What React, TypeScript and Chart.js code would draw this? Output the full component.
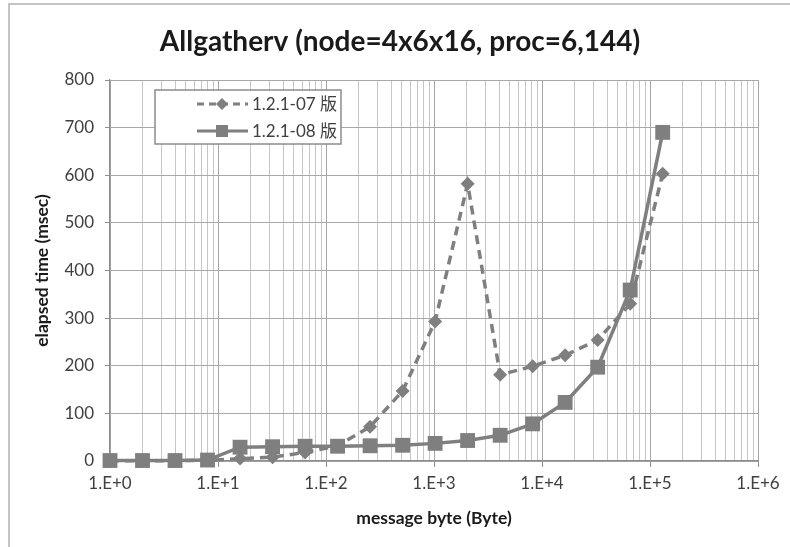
import React, { useEffect, useRef } from "react";
import { Chart, registerables } from "chart.js";

Chart.register(...registerables);

const chartTitle = "Allgatherv (node=4x6x16, proc=6,144)";
const xTitle = "message byte (Byte)";
const yTitle = "elapsed time (msec)";

const messageBytes = [1, 2, 4, 8, 16, 32, 64, 128, 256, 512, 1024, 2048, 4096, 8192, 16384, 32768, 65536, 131072];
const series07Label = "1.2.1-07 版";
const series07 = [0.5, 0.5, 0.7, 1.5, 5, 8, 18, 32, 72, 147, 293, 582, 181, 199, 222, 254, 330, 603];
const series08Label = "1.2.1-08 版";
const series08 = [1, 1, 1, 2, 29, 30, 31, 31, 32, 33, 37, 43, 54, 78, 123, 197, 359, 690];

const yTicks = [0, 100, 200, 300, 400, 500, 600, 700, 800];
const xDecades = [0, 1, 2, 3, 4, 5, 6];

const GRAY = "#7f7f7f";
const TEXT = "#404040";
const FONT = "Lato, 'Open Sans', 'Noto Sans CJK JP', sans-serif";

const textPlugin = {
  id: "titles",
  afterDraw(chart: any) {
    const { ctx, chartArea } = chart;
    ctx.save();
    ctx.fillStyle = "#1a1a1a";
    ctx.textAlign = "center";
    ctx.textBaseline = "middle";
    ctx.font = "bold 28px " + FONT;
    ctx.fillText(chartTitle, 400, 42);
    ctx.font = "bold 17.5px " + FONT;
    ctx.translate(42, (chartArea.top + chartArea.bottom) / 2);
    ctx.rotate(-Math.PI / 2);
    ctx.fillText(yTitle, 0, 0);
    ctx.restore();
  },
};

const legendPlugin = {
  id: "insideLegend",
  afterDraw(chart: any) {
    const { ctx, chartArea } = chart;
    const x0 = chartArea.left + 45;
    const y0 = chartArea.top + 10;
    const w = 186;
    const h = 54;
    ctx.save();
    ctx.fillStyle = "#ffffff";
    ctx.fillRect(x0, y0, w, h);
    ctx.strokeStyle = "#8c8c8c";
    ctx.lineWidth = 1.5;
    ctx.strokeRect(x0, y0, w, h);
    const items = [
      { label: series07Label, dash: [7, 5], style: "diamond", y: y0 + 14 },
      { label: series08Label, dash: [], style: "square", y: y0 + 41 },
    ];
    items.forEach((it) => {
      ctx.strokeStyle = GRAY;
      ctx.fillStyle = GRAY;
      ctx.lineWidth = 3;
      ctx.setLineDash(it.dash);
      ctx.beginPath();
      ctx.moveTo(x0 + 42, it.y);
      ctx.lineTo(x0 + 93, it.y);
      ctx.stroke();
      ctx.setLineDash([]);
      const cx = x0 + 67;
      ctx.beginPath();
      if (it.style === "diamond") {
        ctx.moveTo(cx, it.y - 6);
        ctx.lineTo(cx + 6, it.y);
        ctx.lineTo(cx, it.y + 6);
        ctx.lineTo(cx - 6, it.y);
        ctx.closePath();
      } else {
        ctx.rect(cx - 6, it.y - 6, 12, 12);
      }
      ctx.fill();
      ctx.fillStyle = TEXT;
      ctx.font = "17px " + FONT;
      ctx.textBaseline = "middle";
      ctx.textAlign = "left";
      ctx.fillText(it.label, x0 + 97, it.y + 1);
    });
    ctx.restore();
  },
};

export default function App() {
  const ref = useRef<HTMLCanvasElement | null>(null);

  useEffect(() => {
    if (!ref.current) return;
    const chart = new Chart(ref.current, {
      type: "line",
      data: {
        datasets: [
          {
            label: series07Label,
            data: messageBytes.map((x, i) => ({ x, y: series07[i] })),
            borderColor: GRAY,
            backgroundColor: GRAY,
            borderWidth: 3.5,
            borderDash: [9, 6],
            pointStyle: "rectRot",
            pointRadius: 7,
            pointBorderWidth: 0,
            pointBackgroundColor: GRAY,
            tension: 0,
            clip: false,
          },
          {
            label: series08Label,
            data: messageBytes.map((x, i) => ({ x, y: series08[i] })),
            borderColor: GRAY,
            backgroundColor: GRAY,
            borderWidth: 3.5,
            pointStyle: "rect",
            pointRadius: 10.5,
            pointBorderWidth: 0,
            pointBackgroundColor: GRAY,
            tension: 0,
            clip: false,
          },
        ],
      },
      options: {
        animation: false,
        responsive: false,
        layout: { padding: { left: 0, right: 32, top: 80, bottom: 0 } },
        plugins: {
          legend: { display: false },
          tooltip: { enabled: false },
          title: { display: false },
        },
        scales: {
          x: {
            type: "logarithmic",
            min: 1,
            max: 1000000,
            afterFit: (s: any) => {
              s.height = 86;
            },
            afterBuildTicks: (s: any) => {
              const t: any[] = [];
              xDecades.forEach((d) => {
                if (d === 6) {
                  t.push({ value: Math.pow(10, d) });
                } else {
                  for (let m = 1; m <= 9; m++) t.push({ value: m * Math.pow(10, d) });
                }
              });
              s.ticks = t;
            },
            ticks: {
              autoSkip: false,
              maxRotation: 0,
              padding: 6,
              color: TEXT,
              font: { family: FONT, size: 17 },
              callback: (v: any) => {
                const e = Math.log10(Number(v));
                if (Math.abs(e - Math.round(e)) < 1e-9) return "1.E+" + Math.round(e);
                return "";
              },
            },
            grid: {
              color: (c: any) => {
                const v = c.tick ? c.tick.value : 1;
                const e = Math.log10(v);
                return Math.abs(e - Math.round(e)) < 1e-9 ? "#a6a6a6" : "#c6c6c6";
              },
              tickColor: (c: any) => {
                const v = c.tick ? c.tick.value : 1;
                const e = Math.log10(v);
                return Math.abs(e - Math.round(e)) < 1e-9 ? "#8c8c8c" : "rgba(0,0,0,0)";
              },
              tickLength: 6,
              lineWidth: 1,
            },
            border: { color: "#8c8c8c", width: 1.2 },
            title: {
              display: true,
              text: xTitle,
              color: "#1a1a1a",
              font: { family: FONT, size: 17.5, weight: "bold", lineHeight: 1.2 },
              padding: { top: 0, bottom: 18.5 },
            },
          },
          y: {
            type: "linear",
            min: 0,
            max: 800,
            afterFit: (s: any) => {
              s.width = 110;
            },
            afterBuildTicks: (s: any) => {
              s.ticks = yTicks.map((v) => ({ value: v }));
            },
            ticks: {
              padding: 11,
              color: TEXT,
              font: { family: FONT, size: 17 },
            },
            grid: {
              color: "#a8a8a8",
              tickColor: "#8c8c8c",
              tickLength: 5,
              lineWidth: 1,
            },
            border: { color: "#8c8c8c", width: 1.2 },
            title: { display: false },
          },
        },
      },
      plugins: [legendPlugin, textPlugin],
    });
    return () => chart.destroy();
  }, []);

  return (
    <div style={{ position: "absolute", left: 0, top: 0, width: 790, height: 547, background: "#ffffff" }}>
      <div
        style={{
          position: "absolute",
          left: 8,
          top: 3,
          right: 0,
          bottom: 0,
          borderLeft: "2px solid #c4c4c4",
          borderTop: "2px solid #c4c4c4",
        }}
      />
      <canvas ref={ref} width={790} height={547} style={{ position: "absolute", left: 0, top: 0 }} />
    </div>
  );
}
